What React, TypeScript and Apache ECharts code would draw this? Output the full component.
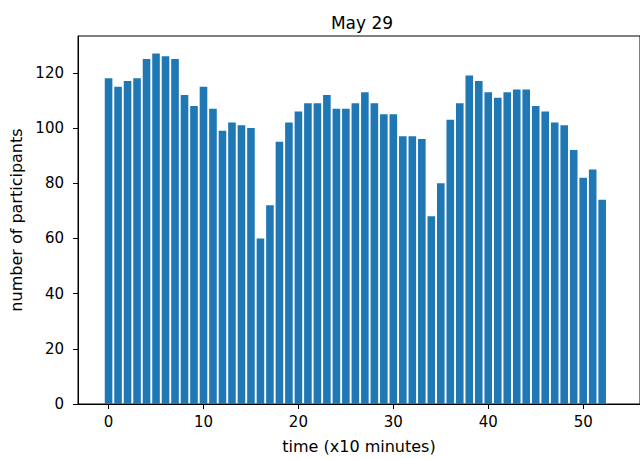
import React, { useEffect, useRef } from "react";
import * as echarts from "echarts";

const titleText = "May 29";
const xName = "time (x10 minutes)";
const yName = "number of participants";
const participants = [
  118, 115, 117, 118, 125, 127, 126, 125, 112, 108,
  115, 107, 99, 102, 101, 100, 60, 72, 95, 102,
  106, 109, 109, 112, 107, 107, 109, 113, 109, 105,
  105, 97, 97, 96, 68, 80, 103, 109, 119, 117,
  113, 111, 113, 114, 114, 108, 106, 102, 101, 92,
  82, 85, 74,
];
const xTicks = [0, 10, 20, 30, 40, 50];
const yTicks = [0, 20, 40, 60, 80, 100, 120];

export default function App() {
  const ref = useRef<HTMLDivElement>(null);
  useEffect(() => {
    if (!ref.current) return;
    const chart = echarts.init(ref.current, null, { renderer: "svg" });
    const gridLeft = 77;
    const gridRight = 643;
    const pxPerUnit = 9.56;
    const xMin = -3.22;
    const xMax = xMin + (gridRight - gridLeft) / pxPerUnit;
    const yMax = Math.max(...participants) * 1.05;
    const font = "DejaVu Sans";
    chart.setOption({
      animation: false,
      title: {
        text: titleText,
        left: 357,
        top: 9,
        textAlign: "center",
        textStyle: { fontFamily: font, fontSize: 17, fontWeight: "normal", color: "#000" },
      },
      grid: {
        left: gridLeft,
        right: 640 - gridRight,
        top: 36,
        bottom: 54,
        show: true,
        borderColor: "#000",
        borderWidth: 1,
        backgroundColor: "#fff",
      },
      xAxis: {
        type: "value",
        min: xMin,
        max: xMax,
        name: xName,
        nameLocation: "middle",
        nameGap: 34,
        nameTextStyle: { fontFamily: font, fontSize: 16, color: "#000" },
        splitLine: { show: false },
        axisLine: { show: true, onZero: false, lineStyle: { color: "#000", width: 1 } },
        axisTick: { show: true, length: 5, customValues: xTicks, lineStyle: { color: "#000" } },
        axisLabel: { customValues: xTicks, margin: 10, fontFamily: font, fontSize: 15, color: "#000" },
      },
      yAxis: {
        type: "value",
        min: 0,
        max: yMax,
        name: yName,
        nameLocation: "middle",
        nameGap: 54,
        nameTextStyle: { fontFamily: font, fontSize: 16, color: "#000" },
        splitLine: { show: false },
        axisLine: { show: true, onZero: false, lineStyle: { color: "#000", width: 1 } },
        axisTick: { show: true, length: 5, customValues: yTicks, lineStyle: { color: "#000" } },
        axisLabel: { customValues: yTicks, margin: 14, fontFamily: font, fontSize: 15, color: "#000" },
      },
      series: [
        {
          type: "bar",
          data: participants.map((v, i) => [i, v]),
          barWidth: 7.6,
          itemStyle: { color: "#1f77b4" },
        },
      ],
    });
    return () => chart.dispose();
  }, []);
  return (
    <div
      ref={ref}
      style={{ position: "fixed", left: 0, top: 0, width: 640, height: 459, background: "#fff" }}
    />
  );
}
